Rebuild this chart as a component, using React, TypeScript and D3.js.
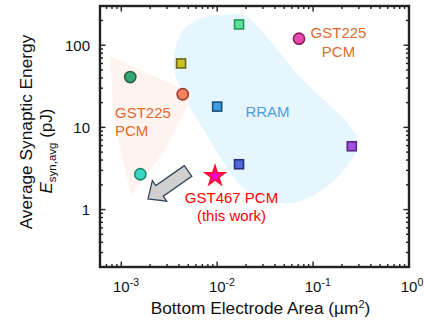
import React from 'react';
import * as d3 from 'd3';

// ---- data ----
const areas = [1.24e-3, 4.37e-3, 0.0713, 1.58e-3, 4.2e-3, 0.0169, 0.01, 0.0169, 0.253, 0.0095];
const energies = [41, 25.3, 120, 2.69, 60, 179, 17.9, 3.56, 5.89, 2.56];
const markers = ['circle', 'circle', 'circle', 'circle', 'square', 'square', 'square', 'square', 'square', 'star'];
const fills = ['#33a875', '#f4805e', '#e84aad', '#3ad8c0', '#c8c020', '#5ee0a0', '#3a9ee0', '#5068d8', '#a050e0', '#ff00cc'];
const strokes = ['#2e5e46', '#9b3a30', '#8a2060', '#1f8a72', '#6b6420', '#1f9a5a', '#1d4e7a', '#26307a', '#5a2a80', '#ff1030'];

const xMajorTicks = [1e-3, 1e-2, 1e-1, 1];
const xTickExps = ['-3', '-2', '-1', '0'];
const yMajorTicks = [1, 10, 100];
const yTickLabels = ['1', '10', '100'];

// region outlines (data units)
const peachX = [7.6e-4, 5.6e-3, 2.86e-3, 1.26e-3, 8.4e-4];
const peachY = [74, 25.5, 5.3, 1.47, 12.3];
const rramX = [0.01857, 0.0731, 0.294, 0.226, 0.124, 0.0603, 0.0316, 0.01816, 0.01122, 7.27e-3, 4.73e-3, 3.55e-3, 3.63e-3, 4.61e-3, 7.46e-3, 0.01205];
const rramY = [233, 41.0, 6.84, 3.40, 1.73, 1.20, 1.31, 1.88, 4.01, 9.3, 21.5, 49.9, 87.5, 162, 220, 233];

// arrow tail/tip (data units)
const arrowX = [4.97e-3, 1.9e-3];
const arrowY = [2.95, 1.35];

const W = 424, H = 322;
const M = { left: 100, right: 15, top: 6, bottom: 55 };
const FONT = 'Liberation Sans, Arial, sans-serif';

export default function App() {
  const x = d3.scaleLog().domain([6e-4, 1]).range([M.left, W - M.right]);
  const y = d3.scaleLog().domain([0.2, 300]).range([H - M.bottom, M.top]);

  const xMinor: number[] = [];
  for (let e = -4; e <= -1; e++) for (let k = 2; k <= 9; k++) {
    const v = k * Math.pow(10, e);
    if (v >= 6e-4 && v <= 1) xMinor.push(v);
  }
  const yMinor: number[] = [];
  for (let e = -1; e <= 2; e++) for (let k = 2; k <= 9; k++) {
    const v = k * Math.pow(10, e);
    if (v >= 0.2 && v <= 300) yMinor.push(v);
  }

  const closedLine = d3.line<[number, number]>().curve(d3.curveLinearClosed);
  const peachPath = closedLine(peachX.map((v, i) => [x(v), y(peachY[i])]))!;
  const rramPath = d3.line<[number, number]>().curve(d3.curveCatmullRomClosed.alpha(0.5))(
    rramX.map((v, i) => [x(v), y(rramY[i])])
  )!;

  // arrow polygon
  const tx = x(arrowX[0]), ty = y(arrowY[0]);
  const hx = x(arrowX[1]), hy = y(arrowY[1]);
  const len = Math.hypot(hx - tx, hy - ty);
  const ux = (hx - tx) / len, uy = (hy - ty) / len;
  const px = -uy, py = ux;
  const sw = 6.5, hw = 12.5, hl = 14;
  const bx = hx - ux * hl, by = hy - uy * hl;
  const arrowPts = [
    [tx + px * sw, ty + py * sw],
    [bx + px * sw, by + py * sw],
    [bx + px * hw, by + py * hw],
    [hx, hy],
    [bx - px * hw, by - py * hw],
    [bx - px * sw, by - py * sw],
    [tx - px * sw, ty - py * sw],
  ].map(p => p.join(',')).join(' ');

  const x0 = M.left, x1 = W - M.right, y0 = M.top, y1 = H - M.bottom;
  const starPath = d3.symbol(d3.symbolStar, 112)()!;

  return (
    <svg width={W} height={H} style={{ position: 'absolute', left: 0, top: 0 }} fontFamily={FONT}>
      <rect width={W} height={H} fill="#fff" />
      <path d={rramPath} fill="#e6f6fe" />
      <path d={peachPath} fill="#fef3ee" />

      {/* labels */}
      <g fontSize={15}>
        <text x={x(8.6e-4)} y={y(13.1)} fill="#dd6b2e">GST225</text>
        <text x={x(8.6e-4)} y={y(13.1) + 18} fill="#dd6b2e">PCM</text>
        <text x={x(0.184)} y={y(123)} fill="#dd6b2e" textAnchor="middle">GST225</text>
        <text x={x(0.184)} y={y(123) + 19} fill="#dd6b2e" textAnchor="middle">PCM</text>
        <text x={x(0.0335)} y={y(13.5)} fill="#4d9fdc" textAnchor="middle">RRAM</text>
        <text x={x(0.0141)} y={y(1.186)} fill="#ff0000" textAnchor="middle">GST467 PCM</text>
        <text x={x(0.0141)} y={y(1.186) + 18} fill="#ff0000" textAnchor="middle">(this work)</text>
      </g>

      <polygon points={arrowPts} fill="#d0d0d0" stroke="#34475a" strokeWidth={1.3} strokeLinejoin="miter" />

      {/* points */}
      {areas.map((a, i) => {
        const cx = x(a), cy = y(energies[i]);
        if (markers[i] === 'circle')
          return <circle key={i} cx={cx} cy={cy} r={5.6} fill={fills[i]} stroke={strokes[i]} strokeWidth={1.6} />;
        if (markers[i] === 'square')
          return <rect key={i} x={cx - 4.5} y={cy - 4.5} width={9} height={9} fill={fills[i]} stroke={strokes[i]} strokeWidth={1.6} />;
        return <path key={i} d={starPath} transform={`translate(${cx},${cy})`} fill={fills[i]} stroke={strokes[i]} strokeWidth={1.8} strokeLinejoin="miter" />;
      })}

      {/* ticks */}
      <g stroke="#222" strokeWidth={1.4}>
        {xMajorTicks.map((v, i) => (
          <g key={'xm' + i}>
            <line x1={x(v)} x2={x(v)} y1={y1} y2={y1 - 5.5} />
            <line x1={x(v)} x2={x(v)} y1={y0} y2={y0 + 5.5} />
          </g>
        ))}
        {xMinor.map((v, i) => (
          <g key={'xn' + i}>
            <line x1={x(v)} x2={x(v)} y1={y1} y2={y1 - 3} />
            <line x1={x(v)} x2={x(v)} y1={y0} y2={y0 + 3} />
          </g>
        ))}
        {yMajorTicks.map((v, i) => (
          <g key={'ym' + i}>
            <line x1={x0} x2={x0 + 5.5} y1={y(v)} y2={y(v)} />
            <line x1={x1} x2={x1 - 5.5} y1={y(v)} y2={y(v)} />
          </g>
        ))}
        {yMinor.map((v, i) => (
          <g key={'yn' + i}>
            <line x1={x0} x2={x0 + 3} y1={y(v)} y2={y(v)} />
            <line x1={x1} x2={x1 - 3} y1={y(v)} y2={y(v)} />
          </g>
        ))}
      </g>
      <rect x={x0} y={y0} width={x1 - x0} height={y1 - y0} fill="none" stroke="#222" strokeWidth={2.4} />

      {/* tick labels */}
      <g fontSize={15} fill="#111">
        {xMajorTicks.map((v, i) => (
          <text key={'xl' + i} x={x(v) - 8.3} y={292}>
            10<tspan fontSize={10.5} dy={-6}>{xTickExps[i]}</tspan>
          </text>
        ))}
        {yMajorTicks.map((v, i) => (
          <text key={'yl' + i} x={90} y={y(v) + 5.5} textAnchor="end">{yTickLabels[i]}</text>
        ))}
      </g>

      {/* axis titles */}
      <text x={(x0 + x1) / 2 + 6} y={314} fontSize={17.3} textAnchor="middle" fill="#111">
        Bottom Electrode Area (µm<tspan fontSize={11} dy={-6}>2</tspan><tspan dy={6}>)</tspan>
      </text>
      <text transform={`translate(32,132) rotate(-90)`} fontSize={17.3} textAnchor="middle" fill="#111">
        Average Synaptic Energy
      </text>
      <text transform={`translate(52,151) rotate(-90)`} fontSize={17} textAnchor="middle" fill="#111">
        <tspan fontStyle="italic">E</tspan><tspan fontSize={11.5} dy={4}>syn,avg</tspan><tspan dy={-4}> (pJ)</tspan>
      </text>
    </svg>
  );
}
